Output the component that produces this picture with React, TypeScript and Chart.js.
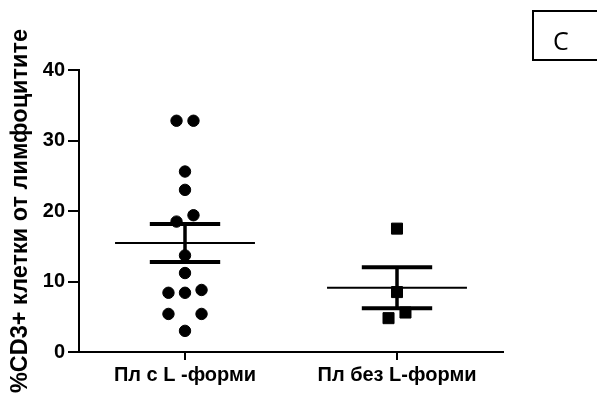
import React, { useEffect, useRef } from "react";
import { Chart, registerables } from "chart.js";

Chart.register(...registerables);

// Group names shown under the x axis
const groupLabels = ["Пл с L -форми", "Пл без L-форми"];

// %CD3+ cells per patient, group with L-forms
const withLForms = [32.8, 32.8, 25.6, 23.0, 18.5, 19.4, 13.7, 11.2, 8.4, 8.4, 8.8, 5.4, 5.4, 3.0];
// horizontal spread of the column-scatter points (category units)
const withLFormsSpread = [-0.04, 0.04, 0, 0, -0.04, 0.04, 0, 0, -0.078, 0, 0.078, -0.078, 0.078, 0];

// %CD3+ cells per patient, group without L-forms
const withoutLForms = [17.5, 8.5, 5.6, 4.8];
const withoutLFormsSpread = [0, 0, 0.04, -0.04];

// y axis ticks
const yTicks = [0, 10, 20, 30, 40];

const yTitle = "%CD3+ клетки от лимфоцитите";
const panelLetter = "C";

function meanSem(values: number[]) {
  const n = values.length;
  const mean = values.reduce((a, b) => a + b, 0) / n;
  const variance = values.reduce((a, b) => a + (b - mean) * (b - mean), 0) / (n - 1);
  return { mean, sem: Math.sqrt(variance) / Math.sqrt(n) };
}

function summaryDatasets(center: number, values: number[]) {
  const { mean, sem } = meanSem(values);
  const base = { type: "line" as const, pointRadius: 0, borderColor: "#000", showLine: true, fill: false };
  return [
    { ...base, borderWidth: 2, data: [{ x: center - 0.33, y: mean }, { x: center + 0.33, y: mean }] },
    { ...base, borderWidth: 4, data: [{ x: center - 0.166, y: mean + sem }, { x: center + 0.166, y: mean + sem }] },
    { ...base, borderWidth: 4, data: [{ x: center - 0.166, y: mean - sem }, { x: center + 0.166, y: mean - sem }] },
    { ...base, borderWidth: 3.5, data: [{ x: center, y: mean - sem }, { x: center, y: mean + sem }] },
  ];
}

export default function App() {
  const canvasRef = useRef<HTMLCanvasElement | null>(null);

  useEffect(() => {
    const canvas = canvasRef.current;
    if (!canvas) return;
    Chart.defaults.font.family = "'Liberation Sans', Arial, sans-serif";

    const chart = new Chart(canvas, {
      type: "scatter",
      data: {
        datasets: [
          {
            type: "scatter",
            data: withLForms.map((v, i) => ({ x: 1 + withLFormsSpread[i], y: v })),
            pointStyle: "circle",
            pointRadius: 5.7,
            borderWidth: 1,
            backgroundColor: "#000",
            borderColor: "#000",
          },
          {
            type: "scatter",
            data: withoutLForms.map((v, i) => ({ x: 2 + withoutLFormsSpread[i], y: v })),
            pointStyle: "rect",
            pointRadius: 7.8,
            borderWidth: 1,
            backgroundColor: "#000",
            borderColor: "#000",
          },
          ...summaryDatasets(1, withLForms),
          ...summaryDatasets(2, withoutLForms),
        ] as any,
      },
      options: {
        animation: false,
        responsive: false,
        layout: { padding: { top: 70, right: 94, left: 0, bottom: 0 } },
        plugins: { legend: { display: false }, tooltip: { enabled: false } },
        scales: {
          x: {
            type: "linear",
            min: 0.5,
            max: 2.5,
            afterBuildTicks: (scale: any) => {
              scale.ticks = groupLabels.map((_, i) => ({ value: i + 1 }));
            },
            afterFit: (scale: any) => {
              scale.height = 44;
            },
            ticks: {
              color: "#000",
              font: { size: 20, weight: "bold" },
              padding: 3,
              maxRotation: 0,
              autoSkip: false,
              callback: (v: any) => groupLabels[Math.round(Number(v)) - 1] ?? "",
            },
            grid: { drawOnChartArea: false, drawTicks: true, tickLength: 8, lineWidth: 2, color: "#000" },
            border: { display: true, color: "#000", width: 2 },
          },
          y: {
            type: "linear",
            min: yTicks[0],
            max: yTicks[yTicks.length - 1],
            afterBuildTicks: (scale: any) => {
              scale.ticks = yTicks.map((v) => ({ value: v }));
            },
            afterFit: (scale: any) => {
              scale.width = 79;
            },
            ticks: { color: "#000", font: { size: 20, weight: "bold" }, padding: 3 },
            grid: { drawOnChartArea: false, drawTicks: true, tickLength: 11, lineWidth: 2, color: "#000" },
            border: { display: true, color: "#000", width: 2 },
            title: {
              display: true,
              text: yTitle,
              color: "#000",
              font: { size: 23.5, weight: "bold" },
              padding: { top: 6, bottom: 0 },
            },
          },
        },
      },
    });
    return () => chart.destroy();
  }, []);

  return (
    <div style={{ position: "absolute", left: 0, top: 0, width: 597, height: 396, background: "#fff", overflow: "hidden" }}>
      <canvas ref={canvasRef} width={597} height={396} style={{ display: "block" }} />
      <div
        style={{
          position: "absolute",
          left: 532,
          top: 10,
          width: 80,
          height: 47,
          border: "2px solid #000",
          boxSizing: "content-box",
        }}
      >
        <span
          style={{
            position: "absolute",
            left: 19,
            top: 16,
            fontFamily: "'Open Sans', sans-serif",
            fontSize: 25,
            lineHeight: "24px",
            color: "#000",
          }}
        >
          {panelLetter}
        </span>
      </div>
    </div>
  );
}
